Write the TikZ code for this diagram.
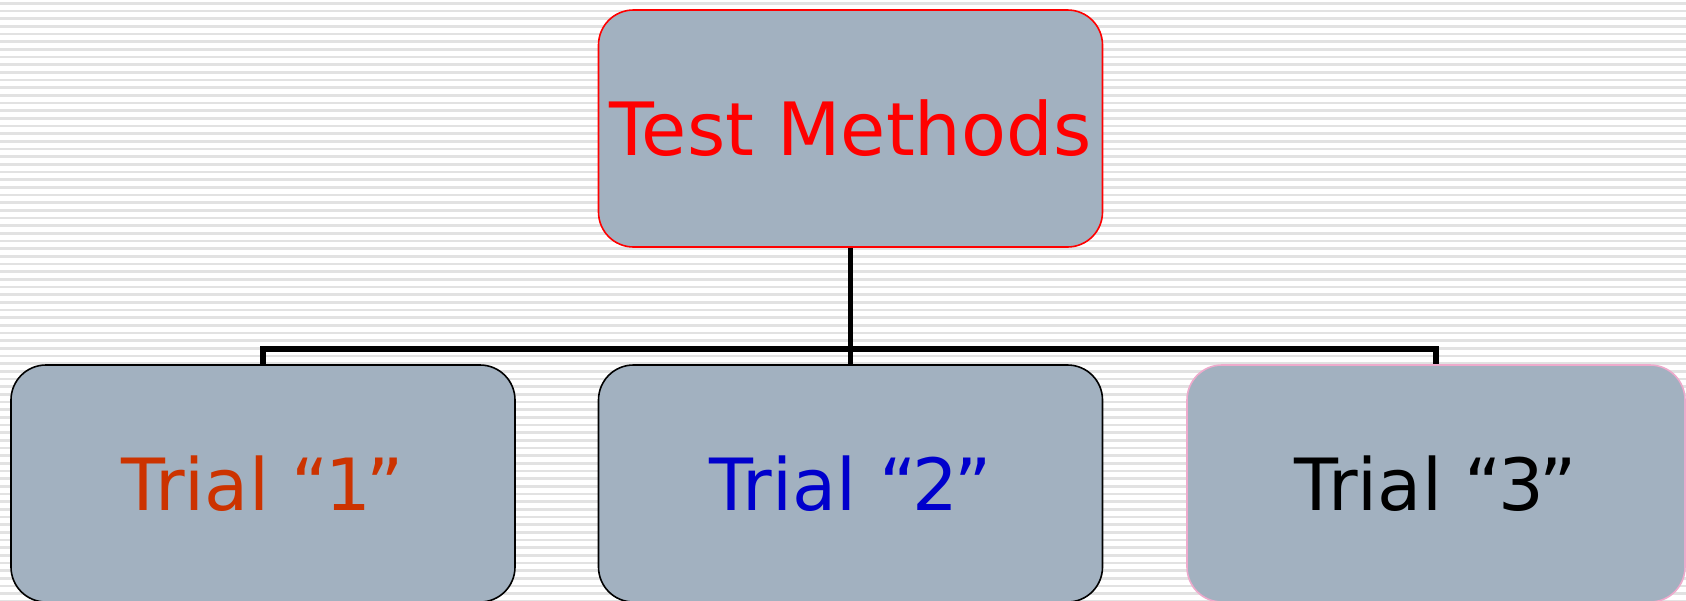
\documentclass[tikz,border=0pt]{standalone}
\usepackage{fontspec}
\setmainfont{DejaVu Sans}
\definecolor{boxfill}{RGB}{162,177,192}
\definecolor{stripe}{RGB}{226,226,226}
\definecolor{trialone}{RGB}{204,51,0}
\definecolor{trialtwo}{RGB}{0,0,204}
\definecolor{pinkedge}{RGB}{238,170,204}
\newcommand{\qt}[1]{“\kern-4pt#1\kern-4pt”}
\tikzset{
  trialbox/.style={rectangle, rounded corners=35pt, fill=boxfill, line width=1.6pt,
    minimum width=#1, minimum height=237pt, inner sep=0pt,
    font=\fontsize{72}{86}\selectfont},
  conn/.style={line width=5.5pt, draw=black},
}
\begin{document}
\begin{tikzpicture}[x=1pt,y=-1pt]
\useasboundingbox (0,0) rectangle (1686,600);
\fill[white] (0,0) rectangle (1686,600);
\foreach \i in {0,...,78} {
  \draw[stripe, line width=2.6pt] (0,{3.3+\i*7.667}) -- (1686,{3.3+\i*7.667});
}
\node[trialbox=504pt, draw=red, text=red, font=\fontsize{73.5}{88}\selectfont] (top) at (850.5,128.5) {Test Methods};
\node[trialbox=504pt, draw=black, text=trialone] (t1) at (263,483.5) {Trial \qt{1}};
\node[trialbox=504pt, draw=black, text=trialtwo] (t2) at (850.5,483.5) {Trial \qt{2}};
\node[trialbox=498pt, draw=pinkedge, text=black] (t3) at (1436,483.5) {Trial \qt{3}};
\coordinate (j) at (850.5,349);
\draw[conn] (top.south) -- (t2.north);
\draw[conn] (t1.north) |- (j) -| (t3.north);
\end{tikzpicture}
\end{document}
